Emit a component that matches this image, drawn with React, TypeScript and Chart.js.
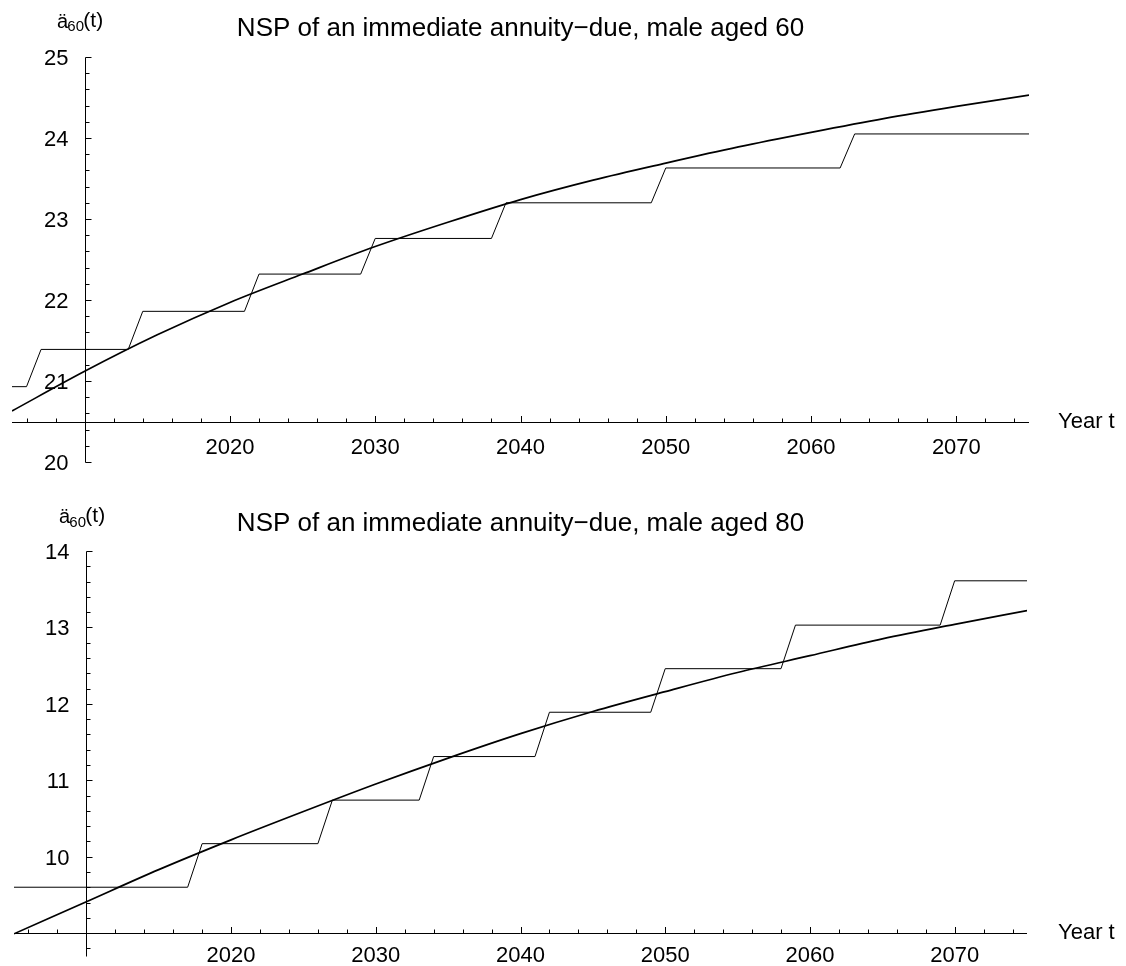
import React, { useEffect, useRef } from "react";
import { Chart, registerables } from "chart.js";

Chart.register(...registerables);

const FONT = '"Liberation Sans", Arial, Helvetica, sans-serif';

// ---------- data ----------
const curveYears = [2005, 2010, 2015, 2020, 2025, 2030, 2035, 2040, 2045, 2050, 2055, 2060, 2065, 2070, 2075];

// male aged 60
const stepYears60 = [2005, 2006, 2007, 2013, 2014, 2021, 2022, 2029, 2030, 2038, 2039, 2049, 2050, 2062, 2063, 2075];
const stepValues60 = [20.93, 20.93, 21.39, 21.39, 21.86, 21.86, 22.32, 22.32, 22.76, 22.76, 23.2, 23.2, 23.63, 23.63, 24.05, 24.05];
const curveValues60 = [20.63, 21.12, 21.57, 21.97, 22.32, 22.66, 22.96, 23.24, 23.48, 23.69, 23.89, 24.07, 24.24, 24.39, 24.53];

// male aged 80
const stepYears80 = [2005, 2017, 2018, 2026, 2027, 2033, 2034, 2041, 2042, 2049, 2050, 2058, 2059, 2069, 2070, 2075];
const stepValues80 = [9.6, 9.6, 10.17, 10.17, 10.74, 10.74, 11.31, 11.31, 11.89, 11.89, 12.46, 12.46, 13.03, 13.03, 13.61, 13.61];
const curveValues80 = [8.99, 9.41, 9.83, 10.22, 10.59, 10.95, 11.29, 11.61, 11.9, 12.16, 12.41, 12.63, 12.85, 13.04, 13.22];

const xTickLabels = ["2020", "2030", "2040", "2050", "2060", "2070"];
const yTickLabels60 = ["20", "21", "22", "23", "24", "25"];
const yTickLabels80 = ["10", "11", "12", "13", "14"];

const title60 = "NSP of an immediate annuity\u2212due, male aged 60";
const title80 = "NSP of an immediate annuity\u2212due, male aged 80";
const xAxisTitle = "Year t";

type PanelSpec = {
  title: string;
  stepYears: number[];
  stepValues: number[];
  curveValues: number[];
  yTickLabels: string[];
  xMin: number;
  xMax: number;
  yMin: number;
  yMax: number;
  crossX: number;
  crossY: number;
  padding: { left: number; right: number; top: number; bottom: number };
  titleBaseline: number;
  ylabBaseline: number;
  ylabX: number;
  xLabelDy: number;
};

const W = 1126;
const H = 483;

function makeAxesPlugin(spec: PanelSpec) {
  return {
    id: "mathAxes",
    afterDatasetsDraw(chart: any) {
      const ctx: CanvasRenderingContext2D = chart.ctx;
      const xs = chart.scales.x;
      const ys = chart.scales.y;
      const area = chart.chartArea;
      const ax = Math.round(xs.getPixelForValue(spec.crossX)) + 0.5;
      const ay = Math.round(ys.getPixelForValue(spec.crossY)) + 0.5;
      ctx.save();
      ctx.strokeStyle = "#000";
      ctx.fillStyle = "#000";
      ctx.lineWidth = 1;

      // axis lines
      ctx.beginPath();
      ctx.moveTo(area.left, ay);
      ctx.lineTo(area.right, ay);
      const yTop = Math.round(ys.getPixelForValue(spec.yMax)) + 0.5;
      const yBot = Math.round(ys.getPixelForValue(spec.yMin)) + 0.5;
      ctx.moveTo(ax, yBot);
      ctx.lineTo(ax, yTop);

      // x ticks every 2 years, pointing up
      for (let v = Math.ceil(spec.xMin / 2) * 2; v <= spec.xMax; v += 2) {
        if (v === spec.crossX) continue;
        const px = Math.round(xs.getPixelForValue(v)) + 0.5;
        const len = v % 10 === 0 ? 6.5 : 4;
        ctx.moveTo(px, ay);
        ctx.lineTo(px, ay - len);
      }
      // y ticks every 0.2, pointing right
      const t0 = Math.ceil(spec.yMin * 10 - 1e-6);
      const t1 = Math.floor(spec.yMax * 10 + 1e-6);
      for (let t = t0; t <= t1; t++) {
        if (t % 2 !== 0) continue;
        if (Math.abs(t - spec.crossY * 10) < 1e-6) continue;
        const py = Math.round(ys.getPixelForValue(t / 10)) + 0.5;
        const len = t % 10 === 0 ? 6 : 4;
        ctx.moveTo(ax, py);
        ctx.lineTo(ax + len, py);
      }
      ctx.stroke();

      // tick labels
      ctx.font = `22px ${FONT}`;
      ctx.textBaseline = "alphabetic";
      ctx.textAlign = "right";
      for (const lab of spec.yTickLabels) {
        const py = ys.getPixelForValue(Number(lab));
        ctx.fillText(lab, ax - 17, py + 7.9);
      }
      ctx.textAlign = "center";
      for (const lab of xTickLabels) {
        const px = xs.getPixelForValue(Number(lab));
        ctx.fillText(lab, px, ay + spec.xLabelDy + 7.9);
      }
      // x axis title
      ctx.textAlign = "left";
      ctx.fillText(xAxisTitle, 1058, ay - 2 + 7.9);

      // title
      ctx.font = `26px ${FONT}`;
      ctx.textAlign = "center";
      ctx.fillText(spec.title, (area.left + area.right) / 2, spec.titleBaseline);

      // y axis label: ä_60(t)
      ctx.textAlign = "left";
      const x0 = spec.ylabX;
      const b = spec.ylabBaseline;
      ctx.font = `20px ${FONT}`;
      ctx.fillText("\u00e4", x0, b + 1);
      ctx.font = `15px ${FONT}`;
      ctx.fillText("60", x0 + 10.3, b + 4.5);
      ctx.font = `21px ${FONT}`;
      ctx.fillText("(t)", x0 + 26.3, b);

      ctx.restore();
    },
  };
}

function Panel({ spec }: { spec: PanelSpec }) {
  const ref = useRef<HTMLCanvasElement>(null);
  useEffect(() => {
    const canvas = ref.current;
    if (!canvas) return;
    const chart = new Chart(canvas, {
      type: "line",
      data: {
        datasets: [
          {
            data: curveYears.map((x, i) => ({ x, y: spec.curveValues[i] })),
            borderColor: "#000",
            borderWidth: 1.7,
            pointRadius: 0,
            fill: false,
            cubicInterpolationMode: "monotone",
          },
          {
            data: spec.stepYears.map((x, i) => ({ x, y: spec.stepValues[i] })),
            borderColor: "#000",
            borderWidth: 1,
            pointRadius: 0,
            fill: false,
            tension: 0,
          },
        ],
      },
      options: {
        responsive: false,
        animation: false,
        devicePixelRatio: 1,
        events: [],
        layout: { padding: spec.padding },
        plugins: {
          legend: { display: false },
          tooltip: { enabled: false },
          title: { display: false },
        },
        scales: {
          x: { type: "linear", min: spec.xMin, max: spec.xMax, display: false },
          y: { type: "linear", min: spec.yMin, max: spec.yMax, display: false },
        },
      } as any,
      plugins: [makeAxesPlugin(spec)],
    });
    return () => chart.destroy();
  }, [spec]);
  return <canvas ref={ref} width={W} height={H} style={{ display: "block", width: W, height: H }} />;
}

const spec60: PanelSpec = {
  title: title60,
  stepYears: stepYears60,
  stepValues: stepValues60,
  curveValues: curveValues60,
  yTickLabels: yTickLabels60,
  xMin: 2005,
  xMax: 2075,
  yMin: 20,
  yMax: 25,
  crossX: 2010,
  crossY: 20.5,
  padding: { left: 12, right: W - 1029, top: 57, bottom: H - 462 },
  titleBaseline: 36,
  ylabBaseline: 26.5,
  ylabX: 57,
  xLabelDy: 24,
};

const spec80: PanelSpec = {
  title: title80,
  stepYears: stepYears80,
  stepValues: stepValues80,
  curveValues: curveValues80,
  yTickLabels: yTickLabels80,
  xMin: 2005,
  xMax: 2075,
  yMin: 8.7,
  yMax: 14,
  crossX: 2010,
  crossY: 9,
  padding: { left: 14, right: W - 1027, top: 68, bottom: H - 473 },
  titleBaseline: 48,
  ylabBaseline: 39,
  ylabX: 59,
  xLabelDy: 20.5,
};

export default function App() {
  return (
    <div style={{ position: "absolute", left: 0, top: 0, width: W, height: 2 * H, background: "#fff" }}>
      <Panel spec={spec60} />
      <Panel spec={spec80} />
    </div>
  );
}
